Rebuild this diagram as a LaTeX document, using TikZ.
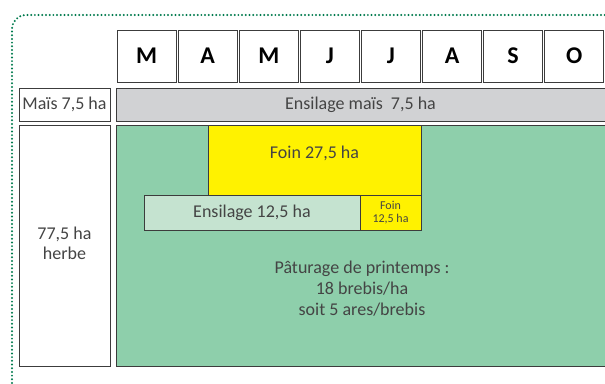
\documentclass[tikz,border=0pt]{standalone}
\usepackage{fontspec}
\setmainfont{Carlito}
\definecolor{herbe}{HTML}{8ECFAB}
\definecolor{ensil}{HTML}{C5E3D0}
\definecolor{foin}{HTML}{FFF200}
\definecolor{mais}{HTML}{D1D2D4}
\definecolor{cadre}{HTML}{007A4D}
\definecolor{trait}{HTML}{3C3C3C}
\definecolor{texte}{HTML}{444444}
\tikzset{
  case/.style={draw=trait, line width=1pt, inner sep=0pt, text=texte, font=\fontsize{18}{21}\selectfont},
  mois/.style={case, fill=white, minimum width=59pt, minimum height=52pt, text=black, font=\fontsize{24}{24}\selectfont\bfseries}
}
\begin{document}
\begin{tikzpicture}[x=1pt, y=-1pt]
        \useasboundingbox (0,0) rectangle (605,383);
        % dotted frame
        \draw[cadre, line width=2.2pt, dash pattern=on 0pt off 3.7pt, line cap=round, rounded corners=14pt] (12,383) -- (12,15) -- (605,15);

        % Months
        \foreach \m [count=\i] in {M,A,M,J,J,A,S,O}
          \node[mois] (m\i) at (116+61.1*\i-30.55,56) {\m};

        % Rows with absolute positions
        \node[case, fill=white, minimum width=91pt, minimum height=33pt] (maislab) at (64.5,104.5) {Maïs 7,5 ha};
        \node[case, fill=mais, minimum width=489pt, minimum height=33pt] (ensmais) at (360.5,104.5) {Ensilage maïs~~7,5 ha};
        \node[case, fill=white, minimum width=91pt, minimum height=241pt] (herbelab) at (64.5,245.5) {};
        \node[text=texte, align=center, font=\fontsize{18}{20}\selectfont] (herbetxt) at (64.5,243) {77,5 ha\\herbe};
        \node[case, fill=herbe, minimum width=489pt, minimum height=241pt] (herbe) at (360.5,245.5) {};
        \node[case, fill=foin, minimum width=213pt, minimum height=71pt] (foin) at (314.5,160.5) {\raisebox{7pt}[\height][\depth]{Foin 27,5 ha}};
        \node[case, fill=ensil, minimum width=216pt, minimum height=35pt] (ensil) at (252,212.5) {Ensilage 12,5 ha};
        \node[case, fill=foin, minimum width=61pt, minimum height=35pt, align=center, font=\fontsize{12}{13}\selectfont] (foin2) at (390.5,212.5) {Foin\\12,5 ha};
        \node[text=texte, align=center, font=\fontsize{18}{21}\selectfont] (patur) at (362,289) {Pâturage de printemps :\\18 brebis/ha\\soit 5 ares/brebis};
\end{tikzpicture}
\end{document}
